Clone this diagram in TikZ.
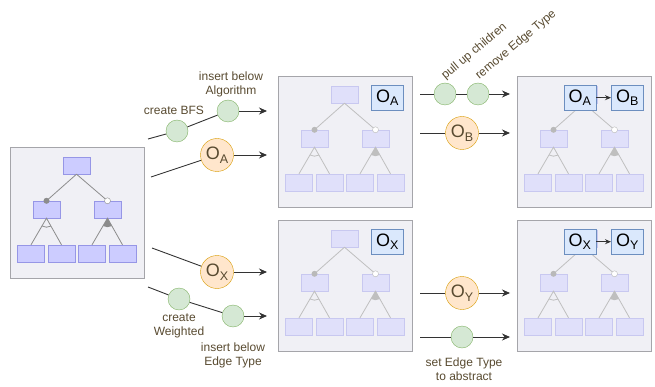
\documentclass[tikz,border=0pt]{standalone}
\usepackage{fontspec}
\setmainfont{Liberation Sans}
\usetikzlibrary{arrows.meta}
\usetikzlibrary{positioning}
\definecolor{panelfill}{RGB}{240,240,245}
\definecolor{panelline}{RGB}{165,165,170}
\definecolor{featfill}{RGB}{204,204,255}
\definecolor{featline}{RGB}{150,150,230}
\definecolor{palefill}{RGB}{224,224,250}
\definecolor{paleline}{RGB}{200,200,240}
\definecolor{boxfill}{RGB}{218,232,252}
\definecolor{boxline}{RGB}{108,142,191}
\definecolor{greenfill}{RGB}{213,232,212}
\definecolor{greenline}{RGB}{130,179,102}
\definecolor{orangefill}{RGB}{255,230,204}
\definecolor{orangeline}{RGB}{215,155,0}
\definecolor{labeltext}{RGB}{88,74,48}
\tikzset{panel/.style = {draw=panelline, fill=panelfill, anchor=north west, inner sep=0, minimum width=134, minimum height=131}}
\tikzset{feat/.style = {draw=featline, fill=featfill, inner sep=0, minimum width=27, minimum height=17}}
\tikzset{featpale/.style = {draw=paleline, fill=palefill, inner sep=0, minimum width=27, minimum height=17}}
\tikzset{tie/.style = {color=gray!90, line width=0.8}}
\tikzset{tiepale/.style = {color=gray!50, line width=0.8}}
\tikzset{dotfill/.style = {circle, fill=gray!90, inner sep=0, minimum size=6}}
\tikzset{dotfillpale/.style = {circle, fill=gray!55, inner sep=0, minimum size=6}}
\tikzset{dotopen/.style = {circle, draw=gray!90, fill=white, inner sep=0, minimum size=6}}
\tikzset{dotopenpale/.style = {circle, draw=gray!55, fill=white, inner sep=0, minimum size=6}}
\tikzset{obox/.style = {draw=boxline, fill=boxfill, inner sep=0, minimum width=32, minimum height=25}}
\tikzset{gstep/.style = {circle, draw=greenline, fill=greenfill, inner sep=0, minimum size=22}}
\tikzset{ostep/.style = {circle, draw=orangeline, fill=orangefill, inner sep=0, minimum size=33, text=labeltext}}
\tikzset{flow/.style = {draw=black!80, line width=0.9}}
\tikzset{lbl/.style = {text=labeltext, font=\fontsize{12}{14}\selectfont, align=center, inner sep=0}}
\newcommand{\osub}[1]{\fontsize{18}{18}\selectfont O\raisebox{-3.5pt}{\fontsize{12.5}{12.5}\selectfont #1}}
% feature model tree, placed in a panel: #1 prefix, #2 panel, #3 look
\newcommand{\fmtree}[3]{%
  \begin{scope}[shift={(#2.north west)}]
    \node[feat#3] (#1r) at (66.5,18.5) {};
    \node[feat#3] (#1a) at (36.5,62.5) {};
    \node[feat#3] (#1b) at (97.5,62.5) {};
    \foreach \x/\n in {21/c,51.5/d,82/e,112.5/f}
      \node[feat#3] (#1\n) at (\x,106.5) {};
    \draw[tie#3] (#1r.south) -- (#1a.north);
    \draw[tie#3] (#1r.south) -- (#1b.north);
    \draw[tie#3] (#1c.north) -- (#1a.south) -- (#1d.north);
    \draw[tie#3] (#1e.north) -- (#1b.south) -- (#1f.north);
    \draw[tie#3] (#1a.south) ++(61:9) arc (61:120:9);
    \fill[tie#3] (#1b.south) -- ++(61:9) arc (61:120:9) -- cycle;
    \node[dotfill#3] at (#1a.north) {};
    \node[dotopen#3] at (#1b.north) {};
  \end{scope}}
\begin{document}
\begin{tikzpicture}[x=1pt,y=-1pt]
  \useasboundingbox (0,0) rectangle (655,387);
  % panels
  \node[panel] (left) at (10,147) {};
  \node[panel] (midtop) at (278,76) {};
  \node[panel] (rtop) at (517,76) {};
  \node[panel] (midbot) at (278,220) {};
  \node[panel] (rbot) at (517,220) {};
  \fmtree{L}{left}{}
  \fmtree{M}{midtop}{pale}
  \fmtree{R}{rtop}{pale}
  \fmtree{N}{midbot}{pale}
  \fmtree{S}{rbot}{pale}
  % objects
  \node[obox, below left=9pt and 9pt of midtop.north east] (ma) {\osub{A}};
  \node[obox, below left=9pt and 9pt of midbot.north east] (mx) {\osub{X}};
  \node[obox, below left=9pt and 8pt of rtop.north east] (rb) {\osub{B}};
  \node[obox, left=15pt of rb] (ra) {\osub{A}};
  \node[obox, below left=9pt and 8pt of rbot.north east] (sy) {\osub{Y}};
  \node[obox, left=15pt of sy] (sx) {\osub{X}};
  \draw[flow, -{Stealth[length=6pt,width=5pt]}] (ra) -- (rb);
  \draw[flow, -{Stealth[length=6pt,width=5pt]}] (sx) -- (sy);
  % first step
  \coordinate (s1) at (148,139);
  \coordinate (e1) at (267,111);
  \node[gstep] (g1) at (177,131) {};
  \node[gstep] (g2) at (228,111) {};
  \draw[flow] (s1) -- (g1);
  \draw[flow] (g1) -- (g2);
  \draw[flow, -{Stealth[length=8pt,width=7pt]}] (g2) -- (e1);
  \node[lbl] at (174,110) {create BFS};
  \node[lbl] at (231,84) {insert below\\Algorithm};
  \coordinate (s2) at (151,177);
  \coordinate (e2) at (267,155);
  \node[ostep] (oa) at (217,155) {\osub{A}};
  \draw[flow] (s2) -- (oa);
  \draw[flow, -{Stealth[length=8pt,width=7pt]}] (oa) -- (e2);
  \coordinate (s3) at (152,248);
  \coordinate (e3) at (267,272);
  \node[ostep] (ox) at (217,272) {\osub{X}};
  \draw[flow] (s3) -- (ox);
  \draw[flow, -{Stealth[length=8pt,width=7pt]}] (ox) -- (e3);
  \coordinate (s4) at (148,287);
  \coordinate (e4) at (267,316);
  \node[gstep] (g3) at (179,299) {};
  \node[gstep] (g4) at (233,316) {};
  \draw[flow] (s4) -- (g3);
  \draw[flow] (g3) -- (g4);
  \draw[flow, -{Stealth[length=8pt,width=7pt]}] (g4) -- (e4);
  \node[lbl] at (179,326) {create\\Weighted};
  \node[lbl] at (233,355) {insert below\\Edge Type};
  % second step
  \coordinate (s5) at (420,94);
  \coordinate (e5) at (510,94);
  \node[gstep] (g5) at (445,94) {};
  \node[gstep] (g6) at (478,94) {};
  \draw[flow] (s5) -- (g5);
  \draw[flow] (g5) -- (g6);
  \draw[flow, -{Stealth[length=8pt,width=7pt]}] (g6) -- (e5);
  \node[lbl, anchor=south west, rotate=40] at (447,82) {pull up children};
  \node[lbl, anchor=south west, rotate=40] at (481,82) {remove Edge Type};
  \coordinate (s6) at (420,133);
  \coordinate (e6) at (510,133);
  \node[ostep] (ob) at (462,133) {\osub{B}};
  \draw[flow] (s6) -- (ob);
  \draw[flow, -{Stealth[length=8pt,width=7pt]}] (ob) -- (e6);
  \coordinate (s7) at (420,293);
  \coordinate (e7) at (510,293);
  \node[ostep] (oy) at (462,293) {\osub{Y}};
  \draw[flow] (s7) -- (oy);
  \draw[flow, -{Stealth[length=8pt,width=7pt]}] (oy) -- (e7);
  \coordinate (s8) at (420,337);
  \coordinate (e8) at (510,337);
  \node[gstep] (g7) at (462,337) {};
  \draw[flow] (s8) -- (g7);
  \draw[flow, -{Stealth[length=8pt,width=7pt]}] (g7) -- (e8);
  \node[lbl] at (464,369) {set Edge Type\\to abstract};
\end{tikzpicture}
\end{document}
